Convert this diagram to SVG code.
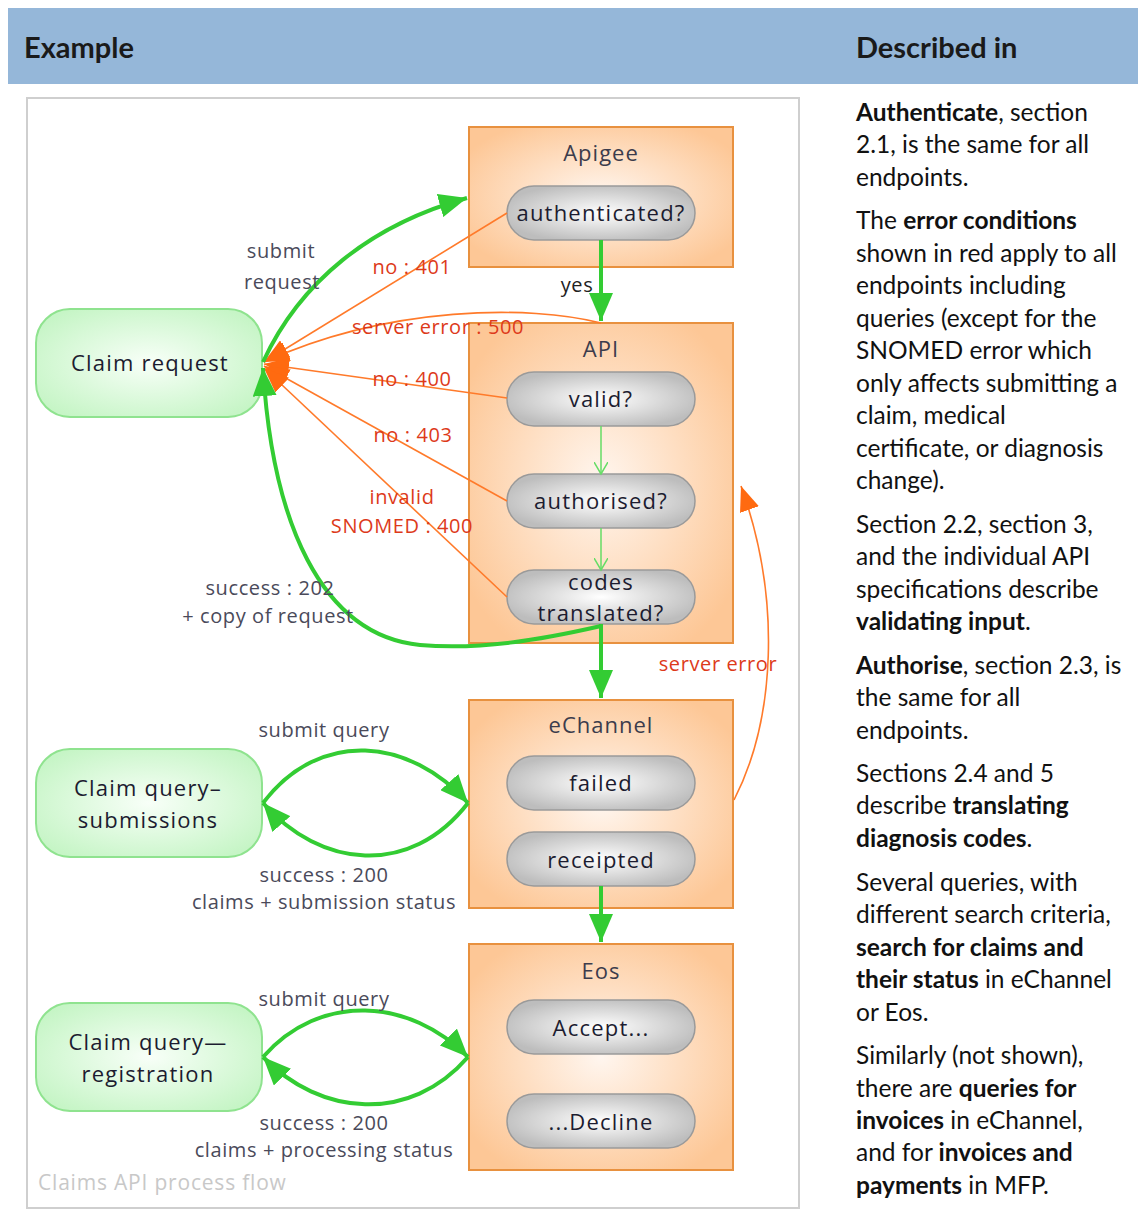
<svg xmlns="http://www.w3.org/2000/svg" width="1138" height="1212" viewBox="0 0 1138 1212">
<style>
.hdr{font-family:Lato,"Liberation Sans",sans-serif;font-weight:bold;font-size:29px;fill:#1a1a1a}
.col{font-family:Lato,"Liberation Sans",sans-serif;font-size:24.5px;fill:#111}
.col .b{font-weight:bold}
.nt{font-family:"Open Sans","Noto Sans",sans-serif;font-size:22px;letter-spacing:1.2px;fill:#1c1c30;text-anchor:middle}
.tt{font-family:"Open Sans","Noto Sans",sans-serif;font-size:22px;letter-spacing:1px;fill:#3c3c4c;text-anchor:middle}
.lb{font-family:"Open Sans","Noto Sans",sans-serif;font-size:20px;letter-spacing:0.6px;fill:#4a4a5a;text-anchor:middle}
.er{font-family:"Open Sans","Noto Sans",sans-serif;font-size:20px;letter-spacing:0.6px;fill:#dd3a1a;text-anchor:middle}
.box{fill:url(#og);stroke:#e8913f;stroke-width:2}
.pill{fill:url(#gg);stroke:#9a9a9a;stroke-width:1.5}
.grn{fill:url(#lg);stroke:#8fe38f;stroke-width:2}
.ga{fill:none;stroke:#33cc33;stroke-width:4}
.gt{fill:none;stroke:#66dd66;stroke-width:1.5}
.oa{fill:none;stroke:#ff7a2a;stroke-width:1.6}
</style>
<defs>
<radialGradient id="og" cx="50%" cy="50%" r="60%">
<stop offset="0" stop-color="#fff6ef"/><stop offset="1" stop-color="#fdc796"/>
</radialGradient>
<radialGradient id="gg" cx="50%" cy="50%" r="55%">
<stop offset="0" stop-color="#ffffff"/><stop offset="1" stop-color="#bdbdbd"/>
</radialGradient>
<radialGradient id="lg" cx="50%" cy="50%" r="60%">
<stop offset="0" stop-color="#f8fff8"/><stop offset="1" stop-color="#c6f5c6"/>
</radialGradient>
<marker id="ga" markerUnits="userSpaceOnUse" markerWidth="30" markerHeight="24" refX="28" refY="12" orient="auto">
<path d="M0,0 L28,12 L0,24 Z" fill="#33cc33"/>
</marker>
<marker id="oa" markerUnits="userSpaceOnUse" markerWidth="26" markerHeight="20" refX="25" refY="10" orient="auto">
<path d="M0,0 L25,10 L0,20 Z" fill="#ff6a10"/>
</marker>
<marker id="gc" markerUnits="userSpaceOnUse" markerWidth="14" markerHeight="14" refX="12" refY="7" orient="auto">
<path d="M0,0 L12,7 L0,14" fill="none" stroke="#66dd66" stroke-width="1.5"/>
</marker>
</defs>
<rect width="1138" height="1212" fill="#fff"/>
<g id="header">
<rect x="8" y="8" width="1130" height="76" fill="#95b7d9"/>
<text class="hdr" x="24" y="58">Example</text>
<text class="hdr" x="856" y="58">Described in</text>
</g>
<g id="frame">
<rect x="27" y="98" width="772" height="1110" fill="#fff" stroke="#cfcfcf" stroke-width="2"/>
<text x="38" y="1190" style="font-family:'Open Sans','Noto Sans',sans-serif;font-size:21px;letter-spacing:0.8px;fill:#c8c8c8">Claims API process flow</text>
</g>
<g id="apigee">
<rect class="box" x="469" y="127" width="264" height="140"/>
<text class="tt" x="601" y="161">Apigee</text>
</g>
<g id="authenticated">
<rect class="pill" x="507" y="186" width="188" height="54" rx="27"/>
<text class="nt" x="601" y="221">authenticated?</text>
</g>
<g id="api">
<rect class="box" x="469" y="323" width="264" height="320"/>
<text class="tt" x="601" y="357">API</text>
</g>
<g id="valid">
<rect class="pill" x="507" y="372" width="188" height="54" rx="27"/>
<text class="nt" x="601" y="407">valid?</text>
</g>
<g id="authorised">
<rect class="pill" x="507" y="474" width="188" height="54" rx="27"/>
<text class="nt" x="601" y="509">authorised?</text>
</g>
<g id="codes">
<rect class="pill" x="507" y="570" width="188" height="54" rx="27"/>
<text class="nt" x="601" y="590">codes</text>
<text class="nt" x="601" y="621">translated?</text>
</g>
<g id="echannel">
<rect class="box" x="469" y="700" width="264" height="208"/>
<text class="tt" x="601" y="733">eChannel</text>
</g>
<g id="failed">
<rect class="pill" x="507" y="756" width="188" height="54" rx="27"/>
<text class="nt" x="601" y="791">failed</text>
</g>
<g id="receipted">
<rect class="pill" x="507" y="832" width="188" height="54" rx="27"/>
<text class="nt" x="601" y="868">receipted</text>
</g>
<g id="eos">
<rect class="box" x="469" y="944" width="264" height="226"/>
<text class="tt" x="601" y="979">Eos</text>
</g>
<g id="accept">
<rect class="pill" x="507" y="1000" width="188" height="54" rx="27"/>
<text class="nt" x="601" y="1036">Accept...</text>
</g>
<g id="decline">
<rect class="pill" x="507" y="1094" width="188" height="54" rx="27"/>
<text class="nt" x="601" y="1130">...Decline</text>
</g>
<g id="claimrequest">
<rect class="grn" x="36" y="309" width="226" height="108" rx="34"/>
<text class="nt" x="150" y="371">Claim request</text>
</g>
<g id="querysub">
<rect class="grn" x="36" y="749" width="226" height="108" rx="34"/>
<text class="nt" x="148" y="796">Claim query–</text>
<text class="nt" x="148" y="828">submissions</text>
</g>
<g id="queryreg">
<rect class="grn" x="36" y="1003" width="226" height="108" rx="34"/>
<text class="nt" x="148" y="1050">Claim query—</text>
<text class="nt" x="148" y="1082">registration</text>
</g>
<g id="connectors">
<path class="oa" d="M507,213 L264,362" marker-end="url(#oa)"/>
<path class="oa" d="M601,323 C530,305 390,305 264,362" marker-end="url(#oa)"/>
<path class="oa" d="M507,398 L264,364" marker-end="url(#oa)"/>
<path class="oa" d="M507,501 L264,366" marker-end="url(#oa)"/>
<path class="oa" d="M507,597 L264,368" marker-end="url(#oa)"/>
<path class="oa" d="M734,800 C775,720 782,600 741,486" marker-end="url(#oa)"/>
<path class="ga" d="M263,362 C300,282 370,225 467,198" marker-end="url(#ga)"/>
<path class="ga" d="M601,240 L601,321" marker-end="url(#ga)"/>
<path class="ga" d="M601,626 C540,640 480,650 420,645 C320,635 272,520 263,368" marker-end="url(#ga)"/>
<path class="gt" d="M601,426 L601,474" marker-end="url(#gc)"/>
<path class="gt" d="M601,528 L601,570" marker-end="url(#gc)"/>
<path class="ga" d="M601,624 L601,698" marker-end="url(#ga)"/>
<path class="ga" d="M601,886 L601,942" marker-end="url(#ga)"/>
<path class="ga" d="M263,803 C320,728 410,738 468,803" marker-end="url(#ga)"/>
<path class="ga" d="M468,803 C410,878 320,868 263,803" marker-end="url(#ga)"/>
<path class="ga" d="M263,1057 C320,992 410,998 468,1057" marker-end="url(#ga)"/>
<path class="ga" d="M468,1057 C410,1124 320,1116 263,1057" marker-end="url(#ga)"/>
<text class="lb" x="281" y="258">submit</text>
<text class="lb" x="282" y="289">request</text>
<text class="er" x="412" y="274">no : 401</text>
<text class="lb" x="577" y="292" style="fill:#222">yes</text>
<text class="er" x="438" y="334">server error : 500</text>
<text class="er" x="412" y="386">no : 400</text>
<text class="er" x="413" y="442">no : 403</text>
<text class="er" x="402" y="504">invalid</text>
<text class="er" x="402" y="533">SNOMED : 400</text>
<text class="lb" x="270" y="595">success : 202</text>
<text class="lb" x="268" y="623">+ copy of request</text>
<text class="er" x="718" y="671">server error</text>
<text class="lb" x="324" y="737">submit query</text>
<text class="lb" x="324" y="882">success : 200</text>
<text class="lb" x="324" y="909">claims + submission status</text>
<text class="lb" x="324" y="1006">submit query</text>
<text class="lb" x="324" y="1130">success : 200</text>
<text class="lb" x="324" y="1157">claims + processing status</text>
</g>
<g id="description" class="col">
<text x="856" y="121"><tspan class="b">Authenticate</tspan>, section</text>
<text x="856" y="153">2.1, is the same for all</text>
<text x="856" y="186">endpoints.</text>
<text x="856" y="229">The <tspan class="b">error conditions</tspan></text>
<text x="856" y="262">shown in red apply to all</text>
<text x="856" y="294">endpoints including</text>
<text x="856" y="327">queries (except for the</text>
<text x="856" y="359">SNOMED error which</text>
<text x="856" y="392">only affects submitting a</text>
<text x="856" y="424">claim, medical</text>
<text x="856" y="457">certificate, or diagnosis</text>
<text x="856" y="489">change).</text>
<text x="856" y="533">Section 2.2, section 3,</text>
<text x="856" y="565">and the individual API</text>
<text x="856" y="598">specifications describe</text>
<text x="856" y="630"><tspan class="b">validating input</tspan>.</text>
<text x="856" y="674"><tspan class="b">Authorise</tspan>, section 2.3, is</text>
<text x="856" y="706">the same for all</text>
<text x="856" y="739">endpoints.</text>
<text x="856" y="782">Sections 2.4 and 5</text>
<text x="856" y="814">describe <tspan class="b">translating</tspan></text>
<text x="856" y="847"><tspan class="b">diagnosis codes</tspan>.</text>
<text x="856" y="891">Several queries, with</text>
<text x="856" y="923">different search criteria,</text>
<text x="856" y="956"><tspan class="b">search for claims and</tspan></text>
<text x="856" y="988"><tspan class="b">their status</tspan> in eChannel</text>
<text x="856" y="1021">or Eos.</text>
<text x="856" y="1064">Similarly (not shown),</text>
<text x="856" y="1097">there are <tspan class="b">queries for</tspan></text>
<text x="856" y="1129"><tspan class="b">invoices</tspan> in eChannel,</text>
<text x="856" y="1161">and for <tspan class="b">invoices and</tspan></text>
<text x="856" y="1194"><tspan class="b">payments</tspan> in MFP.</text>
</g>
</svg>
